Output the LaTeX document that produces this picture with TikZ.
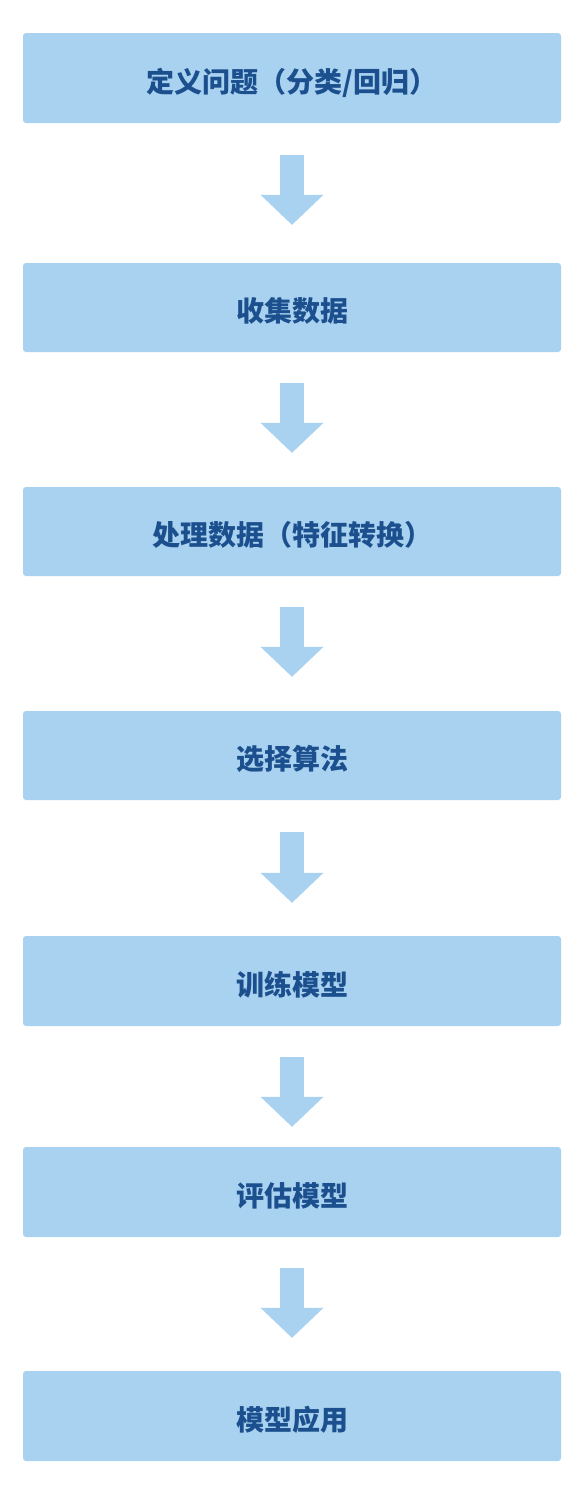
\documentclass[tikz,border=0pt]{standalone}
\usepackage{fontspec}
\setmainfont{Noto Sans CJK SC Black}
\usetikzlibrary{arrows.meta}
\definecolor{boxblue}{HTML}{A9D2F0}
\definecolor{textblue}{HTML}{1B4F8E}
\tikzset{stepbox/.style={fill=boxblue, rounded corners=3pt, minimum width=538pt,
           text=textblue, font=\fontsize{28pt}{30pt}\selectfont, inner sep=0pt,
           text height=31pt, text depth=3pt}}
\tikzset{flow/.style={draw=boxblue, line width=24pt,
           -{Triangle[width=63pt, length=30pt, line width=0pt 0]}}}

\begin{document}
\begin{tikzpicture}[x=1pt, y=-1pt]
    \useasboundingbox (0,0) rectangle (585,1492);
    % the steps, top to bottom
    \node[stepbox, minimum height=90pt] (define)  at (292,78)   {定义问题（分类/回归）};
    \node[stepbox, minimum height=89pt] (collect) at (292,307.5) {收集数据};
    \node[stepbox, minimum height=89pt] (prepare) at (292,531.5) {处理数据（特征转换）};
    \node[stepbox, minimum height=89pt] (choose)  at (292,755.5) {选择算法};
    \node[stepbox, minimum height=90pt] (train)   at (292,981)  {训练模型};
    \node[stepbox, minimum height=90pt] (assess)  at (292,1192) {评估模型};
    \node[stepbox, minimum height=90pt] (apply)   at (292,1416) {模型应用};

    \draw[flow, shorten <=32pt, shorten >=38pt] (define)  -- (collect);
    \draw[flow, shorten <=31pt, shorten >=34pt] (collect) -- (prepare);
    \draw[flow, shorten <=31pt, shorten >=34pt] (prepare) -- (choose);
    \draw[flow, shorten <=32pt, shorten >=33pt] (choose)  -- (train);
    \draw[flow, shorten <=31pt, shorten >=20pt] (train)   -- (assess);
    \draw[flow, shorten <=31pt, shorten >=33pt] (assess)  -- (apply);
\end{tikzpicture}
\end{document}
